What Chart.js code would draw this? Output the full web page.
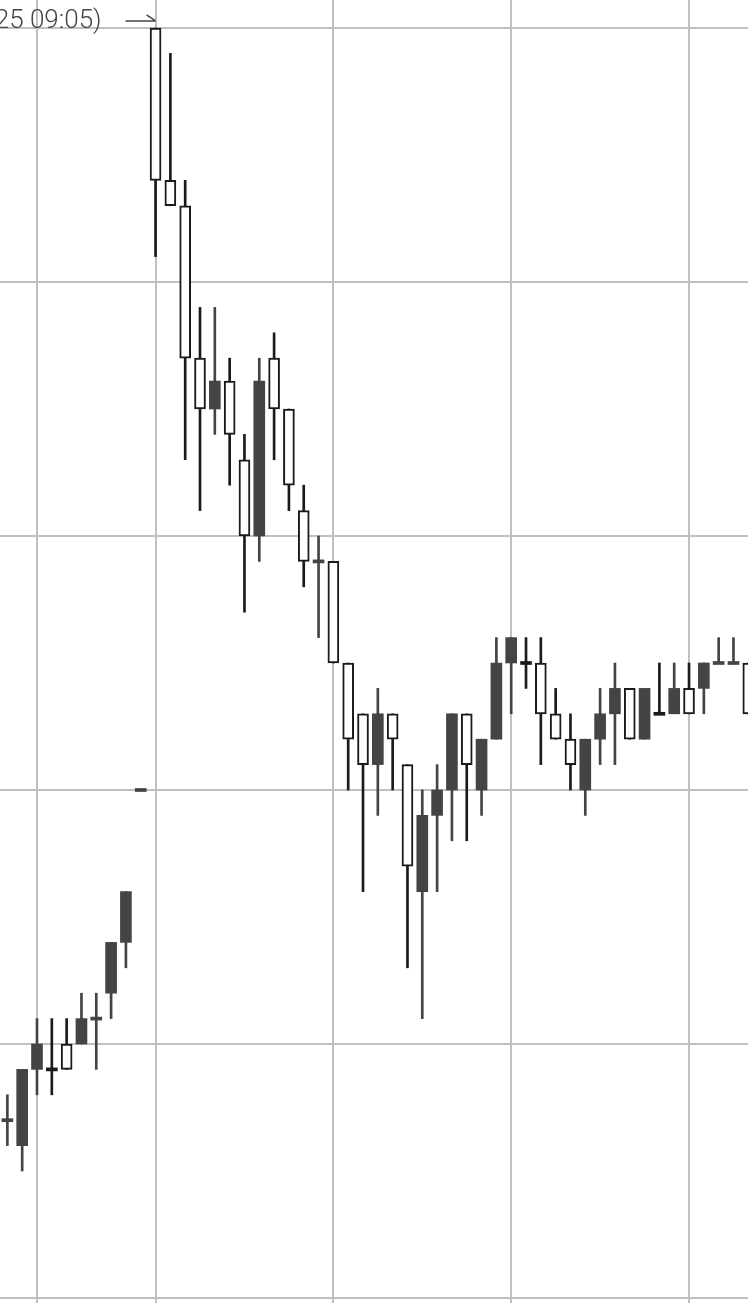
<!DOCTYPE html>
<html>
<head>
<meta charset="utf-8">
<script src="https://cdn.jsdelivr.net/npm/chart.js@4.4.0/dist/chart.umd.min.js"></script>
<style>
  html, body { margin: 0; padding: 0; background: #fff; }
  #wrap { width: 748px; height: 1303px; }
</style>
</head>
<body>
<div id="wrap"><canvas id="candleChart" width="748" height="1303"></canvas></div>
<script>
// bar index -> OHLC
const opens  = [10.7, 10.6, 10.9, 10.9, 11.0, 11.0, 11.1, 11.2, 11.4, 12.0,
                15.0, 14.4, 14.3, 13.7, 13.5, 13.61, 13.3, 13.0, 13.7, 13.5,
                13.1, 12.9, 12.9, 12.5, 12.3, 12.1, 12.3, 12.1, 11.6, 11.9,
                12.0, 12.3, 12.0, 12.2, 12.5, 12.5, 12.5, 12.3, 12.2, 12.0,
                12.2, 12.3, 12.4, 12.2, 12.3, 12.3, 12.4, 12.4, 12.5, 12.5, 12.5];
const highs  = [10.8, 10.9, 11.1, 11.1, 11.1, 11.2, 11.2, 11.4, 11.6, 12.0,
                15.0, 14.9, 14.4, 13.9, 13.9, 13.7, 13.4, 13.7, 13.8, 13.5,
                13.2, 13.0, 12.9, 12.5, 12.3, 12.4, 12.3, 12.1, 12.0, 12.1,
                12.3, 12.3, 12.2, 12.6, 12.6, 12.6, 12.6, 12.4, 12.3, 12.2,
                12.4, 12.5, 12.4, 12.4, 12.5, 12.5, 12.5, 12.5, 12.6, 12.6, 12.5];
const lows   = [10.6, 10.5, 10.8, 10.8, 10.9, 11.0, 10.9, 11.1, 11.3, 12.0,
                14.1, 14.3, 13.3, 13.1, 13.4, 13.2, 12.7, 12.9, 13.3, 13.1,
                12.8, 12.6, 12.5, 12.0, 11.6, 11.9, 12.0, 11.3, 11.1, 11.6,
                11.8, 11.8, 11.9, 12.2, 12.3, 12.4, 12.1, 12.2, 12.0, 11.9,
                12.1, 12.1, 12.2, 12.2, 12.3, 12.3, 12.3, 12.3, 12.5, 12.5, 12.3];
const closes = [10.7, 10.9, 11.0, 10.9, 10.9, 11.1, 11.1, 11.4, 11.6, 12.0,
                14.4, 14.3, 13.7, 13.5, 13.61, 13.4, 13.0, 13.61, 13.5, 13.2,
                12.9, 12.9, 12.5, 12.2, 12.1, 12.3, 12.2, 11.7, 11.9, 12.0,
                12.3, 12.1, 12.2, 12.5, 12.6, 12.5, 12.3, 12.2, 12.1, 12.2,
                12.3, 12.4, 12.2, 12.4, 12.3, 12.4, 12.3, 12.5, 12.5, 12.5, 12.3];

const priceTicks = [10, 11, 12, 13, 14, 15];
const timeTicks = [2, 10, 22, 34, 46];
const noteText = '25 09:05)';

const UP = '#444444';
const DOWN = '#1a1a1a';
const GRID = '#c0c0c0';
const DOJI = 0.006;

const isDown = i => closes[i] < opens[i] ||
    (closes[i] === opens[i] && i > 0 && closes[i] < closes[i - 1]);

const idx = opens.map((_, i) => i);
const lineColors = idx.map(i => isDown(i) ? DOWN : UP);
const hollow = idx.map(i => isDown(i) && closes[i] !== opens[i]);

const wickData = idx.map(i => ({ x: i, y: [lows[i], highs[i]] }));
const bodyData = idx.map(i => ({
    x: i,
    y: opens[i] === closes[i] ? [opens[i] - DOJI, opens[i] + DOJI] : [opens[i], closes[i]]
}));

const notePlugin = {
    id: 'note',
    afterDraw(chart) {
        const { ctx, scales } = chart;
        const peak = highs.indexOf(Math.max(...highs));
        const tipX = scales.x.getPixelForValue(peak);
        const tipY = scales.y.getPixelForValue(highs[peak]) - 7;

        ctx.save();
        ctx.strokeStyle = '#444';
        ctx.lineWidth = 1.5;
        ctx.beginPath();
        ctx.moveTo(tipX - 30, tipY);
        ctx.lineTo(tipX, tipY);
        ctx.moveTo(tipX - 9, tipY - 6);
        ctx.lineTo(tipX, tipY);
        ctx.stroke();

        ctx.fillStyle = '#444';
        ctx.font = '300 26px Roboto';
        ctx.textAlign = 'right';
        ctx.textBaseline = 'alphabetic';
        ctx.fillText(noteText, tipX - 54, tipY + 7);
        ctx.restore();
    }
};

const ctx = document.getElementById('candleChart').getContext('2d');
new Chart(ctx, {
    type: 'bar',
    data: {
        datasets: [{
            label: 'body',
            data: bodyData,
            order: 0,
            barThickness: 11,
            backgroundColor: idx.map(i => hollow[i] ? '#ffffff' : lineColors[i]),
            borderColor: lineColors,
            borderWidth: idx.map(i => hollow[i] ? 2 : 0),
            borderSkipped: false
        }, {
            label: 'wick',
            data: wickData,
            order: 1,
            barThickness: 2,
            backgroundColor: lineColors,
            borderWidth: 0
        }]
    },
    options: {
        responsive: false,
        animation: false,
        layout: { padding: 0 },
        plugins: {
            legend: { display: false },
            tooltip: { enabled: false },
            title: { display: false }
        },
        scales: {
            x: {
                type: 'linear',
                offset: false,
                min: -0.497,
                max: 49.98,
                afterBuildTicks: s => { s.ticks = timeTicks.map(v => ({ value: v })); },
                ticks: { display: false },
                grid: { color: GRID, lineWidth: 2, drawTicks: true, tickLength: 5, offset: false },
                border: { display: true, color: GRID, width: 2 }
            },
            y: {
                type: 'linear',
                min: 10,
                max: 15.1102,
                afterBuildTicks: s => { s.ticks = priceTicks.map(v => ({ value: v })); },
                ticks: { display: false },
                grid: { color: GRID, lineWidth: 2, drawTicks: false },
                border: { display: false }
            }
        },
        datasets: { bar: { grouped: false } }
    },
    plugins: [notePlugin]
});
</script>
</body>
</html>
